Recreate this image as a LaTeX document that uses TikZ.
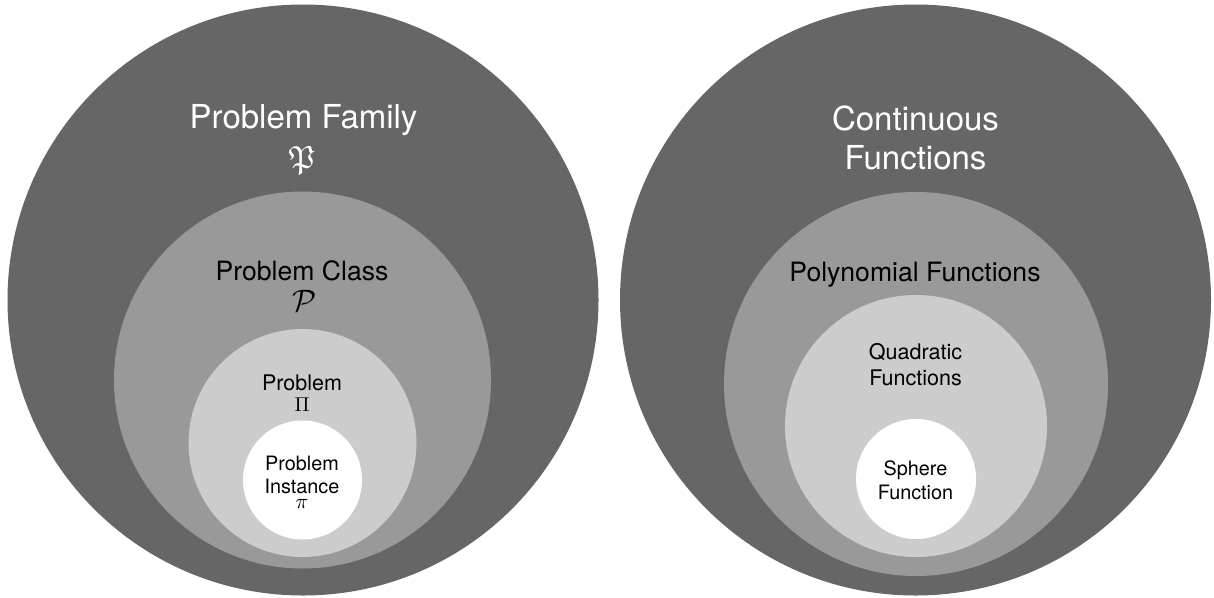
\documentclass[tikz,border=0pt]{standalone}
\usepackage{amssymb}
\usepackage{graphicx}
\usepackage{fontspec}
\setmainfont{TeX Gyre Heros}
\definecolor{gdark}{gray}{0.4}
\definecolor{gmid}{gray}{0.6}
\definecolor{glight}{gray}{0.8}
\tikzset{
  disc/.style={circle, inner sep=0pt, draw=none, minimum size=#1},
  lab/.style={anchor=base, inner sep=0pt, outer sep=0pt},
  sym/.style={anchor=center, inner sep=0pt, outer sep=0pt, font=\fontsize{10}{12}\selectfont},
  fbig/.style={font=\fontsize{33}{38}\selectfont},
  fmed/.style={font=\fontsize{26.6}{31}\selectfont},
  fsmall/.style={font=\fontsize{21.5}{25}\selectfont},
  ftiny/.style={font=\fontsize{19.8}{23}\selectfont}
}
\begin{document}
\begin{tikzpicture}[x=1pt, y=-1pt]
\useasboundingbox (0,0) rectangle (1214,597);
% ---- left: problem hierarchy ----
\node[disc=591pt, fill=gdark] (fam) at (303,300) {};
\node[disc=377pt, fill=gmid] (cls) at (302.5,380) {};
\node[disc=228pt, fill=glight] (prb) at (302.5,443) {};
\node[disc=119pt, fill=white] (ins) at (302.5,480) {};
\node[lab, fbig, text=white] (famt) at (303.5,128.5) {Problem Family};
\node[sym, text=white] (fams) at (302,160) {\scalebox{3.2}{$\mathfrak{P}$}};
\node[lab, fmed] (clst) at (302,280) {Problem Class};
\node[sym] (clss) at (305,300.5) {\scalebox{3.1}{$\mathcal{P}$}};
\node[lab, fsmall] (prbt) at (302,390) {Problem};
\node[sym] (prbs) at (302,405) {\scalebox{2.0}{$\Pi$}};
\node[lab, ftiny] (inst1) at (302,470) {Problem};
\node[lab, ftiny] (inst2) at (302,493) {Instance};
\node[sym] (inss) at (302,504) {\scalebox{2.1}{$\pi$}};
% ---- right: function hierarchy ----
\node[disc=591pt, fill=gdark] (cont) at (915.5,300) {};
\node[disc=384pt, fill=gmid] (poly) at (916,384) {};
\node[disc=262pt, fill=glight] (quad) at (916,426) {};
\node[disc=120pt, fill=white] (sph) at (916,479) {};
\node[lab, fbig, text=white] (contt1) at (915.5,130) {Continuous};
\node[lab, fbig, text=white] (contt2) at (915.5,169) {Functions};
\node[lab, fmed] (polyt) at (915,281) {Polynomial Functions};
\node[lab, fsmall] (quadt1) at (915.5,359) {Quadratic};
\node[lab, fsmall] (quadt2) at (915.5,385) {Functions};
\node[lab, ftiny] (spht1) at (915.5,475) {Sphere};
\node[lab, ftiny] (spht2) at (915.5,499) {Function};
\end{tikzpicture}
\end{document}
